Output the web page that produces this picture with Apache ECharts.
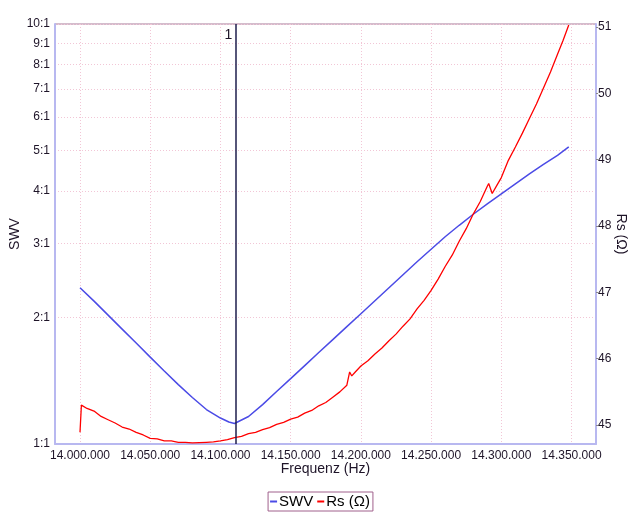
<!DOCTYPE html>
<html><head><meta charset="utf-8">
<script src="https://cdn.jsdelivr.net/npm/echarts@6/dist/echarts.min.js"></script>
<style>html,body{margin:0;padding:0;background:#fff}#c{width:640px;height:512px}</style>
</head><body><div id="c"></div>
<script>
// ---- data (frequencies in kHz) ----
const swvFreqKHz = [14000,14010,14020,14030,14040,14050,14060,14070,14080,14090,14100,14106,14110,
  14120,14130,14140,14150,14160,14170,14180,14190,14200,14210,14220,14230,14240,14250,14260,14270,
  14280,14290,14300,14310,14320,14330,14340,14348];
const swvValues = [2.356,2.189,2.027,1.877,1.739,1.610,1.492,1.385,1.290,1.208,1.153,1.128,1.119,
  1.163,1.241,1.333,1.431,1.537,1.651,1.772,1.903,2.043,2.194,2.356,2.530,2.716,2.909,3.115,3.317,
  3.524,3.732,3.941,4.163,4.398,4.633,4.867,5.099];
const rsFreqKHz = [14000,14001,14005,14010,14015,14020,14025,14030,14035,14040,14045,14050,14055,
  14060,14065,14070,14075,14080,14085,14090,14095,14100,14105,14110,14115,14120,14125,14130,14135,
  14140,14145,14150,14155,14160,14165,14170,14175,14180,14185,14190,14192,14193.5,14196,14200,14205,
  14210,14215,14220,14225,14230,14235,14240,14245,14250,14255,14260,14265,14270,14275,14280,14285,
  14290,14291,14293.5,14297,14300,14305,14310,14315,14320,14325,14330,14335,14340,14344,14348];
const rsValues = [44.89,45.30,45.25,45.21,45.13,45.08,45.03,44.97,44.94,44.89,44.85,44.80,44.79,
  44.76,44.76,44.74,44.74,44.73,44.735,44.74,44.745,44.76,44.78,44.81,44.83,44.87,44.89,44.93,44.96,
  45.01,45.04,45.09,45.12,45.18,45.22,45.29,45.34,45.42,45.50,45.60,45.80,45.74,45.80,45.89,45.97,
  46.07,46.16,46.27,46.37,46.49,46.60,46.75,46.88,47.03,47.20,47.39,47.56,47.77,47.96,48.18,48.37,
  48.60,48.64,48.49,48.62,48.73,48.99,49.19,49.40,49.62,49.84,50.08,50.32,50.59,50.80,51.03];
const freqTicksKHz = [14000,14050,14100,14150,14200,14250,14300,14350];
const swvTicks = [1,2,3,4,5,6,7,8,9,10];
const rsTicks = [45,46,47,48,49,50,51];
const markerFreqKHz = 14111;
const markerLabel = '1';
const markerLabelSwv = 9.4;

// ---- build ----
function fmtHz(v){ return Math.round(v).toString().replace(/\B(?=(\d{3})+(?!\d))/g,'.'); }
const swvData = swvFreqKHz.map((f,i)=>[f*1000, swvValues[i]]);
const rsData = rsFreqKHz.map((f,i)=>[f*1000, rsValues[i]]);
const FONT = 'Liberation Sans, Arial, sans-serif';
const labelColor = '#1e1428';
const axisLav = '#b8b8f0';
const gridPink = '#f2c6d6';

const chart = echarts.init(document.getElementById('c'), null, {renderer:'canvas'});
chart.setOption({
  animation:false,
  backgroundColor:'#fff',
  grid:{left:55, right:44, top:24, bottom:68, containLabel:false, outerBoundsMode:'none',
    show:true, borderColor:'#a87898', borderWidth:1, backgroundColor:'transparent'},
  legend:{
    data:['SWV','Rs (Ω)'], bottom:1, left:'center', icon:'rect', itemWidth:7, itemHeight:2, itemGap:4,
    borderColor:'#a0608c', borderWidth:1, padding:[2,3,2,2], backgroundColor:'#fff',
    textStyle:{fontFamily:FONT, fontSize:15, color:'#000', padding:[0,0,0,-3]}
  },
  xAxis:{
    type:'value', min:13982200, max:14367400,
    name:'Frequenz (Hz)', nameLocation:'middle', nameGap:18, nameMoveOverlap:false,
    nameTextStyle:{fontFamily:FONT, fontSize:14, color:labelColor},
    axisLine:{show:true, onZero:false, lineStyle:{color:axisLav, width:2}},
    axisTick:{show:false, customValues:freqTicksKHz.map(v=>v*1000)},
    axisLabel:{customValues:freqTicksKHz.map(v=>v*1000), formatter:fmtHz, fontFamily:FONT, fontSize:12, color:labelColor, margin:6},
    splitLine:{show:true, lineStyle:{color:gridPink, type:[1,2], width:1}}
  },
  yAxis:[{
    type:'log', logBase:10, min:1, max:10, position:'left',
    name:'SWV', nameLocation:'middle', nameGap:33, nameMoveOverlap:false,
    nameTextStyle:{fontFamily:FONT, fontSize:14, color:labelColor},
    axisLine:{show:true, lineStyle:{color:axisLav, width:2}},
    axisTick:{show:false, customValues:swvTicks},
    axisLabel:{customValues:swvTicks, formatter:v=>Math.round(v)+':1', fontFamily:FONT, fontSize:12, color:labelColor, margin:5},
    splitLine:{show:true, lineStyle:{color:gridPink, type:[1,2], width:1}}
  },{
    type:'value', min:44.714, max:51.045, position:'right',
    name:'Rs (Ω)', nameLocation:'middle', nameGap:18, nameRotate:-90, nameMoveOverlap:false,
    nameTextStyle:{fontFamily:FONT, fontSize:14, color:labelColor},
    axisLine:{show:true, lineStyle:{color:axisLav, width:2}},
    axisTick:{show:true, length:2, customValues:rsTicks, lineStyle:{color:'#888'}},
    axisLabel:{customValues:rsTicks, fontFamily:FONT, fontSize:12, color:labelColor, margin:2},
    splitLine:{show:false}
  }],
  series:[{
    name:'SWV', type:'line', yAxisIndex:0, data:swvData, symbol:'none', smooth:false,
    color:'#4b4be6', lineStyle:{color:'#4b4be6', width:1.5}, z:3,
    markLine:{silent:true, symbol:'none', animation:false,
      lineStyle:{color:'#1e1e4c', width:1.5, type:'solid'}, label:{show:false},
      data:[{xAxis:markerFreqKHz*1000}]},
    markPoint:{silent:true, symbol:'circle', symbolSize:1, itemStyle:{color:'rgba(0,0,0,0)'},
      label:{show:true, position:'left', distance:3, formatter:markerLabel, fontFamily:FONT, fontSize:14, color:labelColor},
      data:[{coord:[markerFreqKHz*1000, markerLabelSwv]}]}
  },{
    name:'Rs (Ω)', type:'line', yAxisIndex:1, data:rsData, symbol:'none',
    color:'#ff0000', lineStyle:{color:'#ff0000', width:1.3}, z:4
  }]
});
</script>
</body></html>
